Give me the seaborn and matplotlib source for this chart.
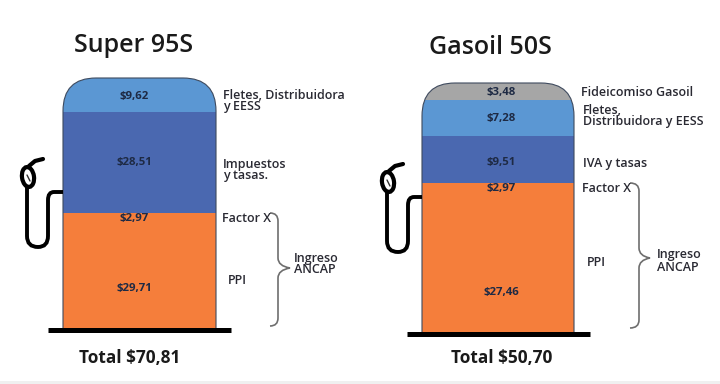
import matplotlib
matplotlib.use('Agg')
import matplotlib.pyplot as plt
import seaborn as sns
import pandas as pd
from matplotlib.path import Path
from matplotlib.patches import PathPatch, Ellipse

sns.set_theme(style='white')
plt.rcParams['font.family'] = ['Open Sans', 'DejaVu Sans']

# values, bottom to top
super_parts = ['PPI', 'Factor X', 'Impuestos y tasas', 'Fletes']
super_values = [29.71, 2.97, 28.51, 9.62]
gasoil_parts = ['PPI', 'Factor X', 'IVA y tasas', 'Fletes', 'Fideicomiso']
gasoil_values = [27.46, 2.97, 9.51, 7.28, 3.48]

colors = {'PPI': '#F57E3B', 'Factor X': '#F57E3B', 'Impuestos y tasas': '#4A68B0',
          'IVA y tasas': '#4A68B0', 'Fletes': '#5B97D3', 'Fideicomiso': '#A6A6A6'}

W, H = 720, 384
fig = plt.figure(figsize=(W / 100, H / 100), dpi=100, facecolor='white')

# overlay in pixel coordinates for text and the pump drawing
over = fig.add_axes([0, 0, 1, 1], zorder=5)
over.set_xlim(0, W)
over.set_ylim(H, 0)
over.axis('off')
over.patch.set_alpha(0)


def money(v):
    return f'${v:.2f}'.replace('.', ',')


def pump_path(x0, x1, top, bottom, r):
    verts = [(x0, bottom), (x0, top + r), (x0, top), (x0 + r, top), (x1 - r, top),
             (x1, top), (x1, top + r), (x1, bottom)]
    codes = [Path.MOVETO, Path.LINETO, Path.CURVE3, Path.CURVE3, Path.LINETO,
             Path.CURVE3, Path.CURVE3, Path.LINETO]
    return Path(verts, codes)


def draw_pump(parts, values, x0, x1, top, bottom, r):
    ax = fig.add_axes([x0 / W, 1 - bottom / H, (x1 - x0) / W, (bottom - top) / H])
    df = pd.DataFrame({'part': parts, 'value': values})
    df['base'] = df['value'].cumsum() - df['value']
    for _, row in df.iterrows():
        sns.barplot(x=['pump'], y=[row['value']], bottom=row['base'], width=1,
                    color=colors[row['part']], saturation=1, linewidth=0, ax=ax)
    ax.set_xlim(-0.5, 0.5)
    ax.set_ylim(0, df['value'].sum())
    ax.axis('off')
    shape = pump_path(x0, x1, top, bottom, r)
    for p in ax.patches:
        p.set_clip_path(shape, transform=over.transData)
    over.add_patch(PathPatch(shape, fc='none', ec='#3E4A5E', lw=0.8))


def draw_hose(dx, dy, x0):
    hose = Path([(x0, 192 + dy), (54 + dx, 192 + dy), (48 + dx, 192 + dy), (48 + dx, 200 + dy),
                 (48 + dx, 236 + dy), (48 + dx, 247 + dy), (38 + dx, 247 + dy),
                 (27 + dx, 247 + dy), (27 + dx, 236 + dy), (27 + dx, 186 + dy)],
                [Path.MOVETO, Path.LINETO, Path.CURVE3, Path.CURVE3, Path.LINETO,
                 Path.CURVE3, Path.CURVE3, Path.CURVE3, Path.CURVE3, Path.LINETO])
    over.add_patch(PathPatch(hose, fc='none', ec='black', lw=2.8))
    over.add_patch(Ellipse((28 + dx, 177 + dy), 12, 20, angle=-8, fc='white', ec='black', lw=3))
    over.plot([29 + dx, 35 + dx, 43 + dx], [166 + dy, 161 + dy, 159 + dy], color='black', lw=3,
              solid_capstyle='round')
    over.plot([27 + dx, 30 + dx], [175 + dy, 181 + dy], color='#333333', lw=1)


def draw_brace(xv, xs, xtip, top, mid, bottom):
    brace = Path([(xs, top), (xv, top), (xv, top + 8), (xv, mid - 10), (xv, mid - 2), (xtip, mid),
                  (xv, mid + 2), (xv, mid + 10), (xv, bottom - 8), (xv, bottom), (xs, bottom)],
                 [Path.MOVETO, Path.CURVE3, Path.CURVE3, Path.LINETO, Path.CURVE3, Path.CURVE3,
                  Path.CURVE3, Path.CURVE3, Path.LINETO, Path.CURVE3, Path.CURVE3])
    over.add_patch(PathPatch(brace, fc='none', ec='#6E6E6E', lw=1.2))


draw_pump(super_parts, super_values, 63, 216, 78, 328, 33)
draw_pump(gasoil_parts, gasoil_values, 422, 574, 83, 333, 33)

draw_hose(0, 0, 63)
draw_hose(360, 5, 422)

over.plot([48, 231], [329.5, 329.5], color='black', lw=3.6, solid_capstyle='butt')
over.plot([407, 590], [334, 334], color='black', lw=3.6, solid_capstyle='butt')

draw_brace(278, 270, 290, 213, 268, 326)
draw_brace(639, 630, 650, 183, 258, 328)

# amounts inside the pumps
value_ypos_super = [288, 218, 163, 96]
value_ypos_gasoil = [292, 189, 163, 118, 92]
for v, y in zip(super_values, value_ypos_super):
    over.text(134, y, money(v), ha='center', va='center', fontsize=8.2, fontweight='bold', color='#1E2A44')
for v, y in zip(gasoil_values, value_ypos_gasoil):
    over.text(501, y, money(v), ha='center', va='center', fontsize=8.2, fontweight='bold', color='#1E2A44')

# side labels
side_labels = [
    (223, 101, 'Fletes, Distribuidora\ny EESS', 0.78),
    (223, 170, 'Impuestos\ny tasas.', 0.78),
    (222, 218, 'Factor X', 0.78),
    (228, 281, 'PPI', 0.78),
    (294, 264, 'Ingreso\nANCAP', 0.78),
    (581, 92, 'Fideicomiso Gasoil', 0.78),
    (583, 116, 'Fletes,\nDistribuidora y EESS', 0.78),
    (583, 163, 'IVA y tasas', 0.78),
    (582, 189, 'Factor X', 0.78),
    (587, 263, 'PPI', 0.78),
    (657, 261, 'Ingreso\nANCAP', 0.95),
]
for x, y, s, sp in side_labels:
    over.text(x, y, s, ha='left', va='center', fontsize=9, fontweight='semibold',
              color='#2A2A33', linespacing=sp)

over.text(134, 45, 'Super 95S', ha='center', va='center', fontsize=18, fontweight='semibold', color='#1A1A1A')
over.text(490, 48, 'Gasoil 50S', ha='center', va='center', fontsize=18, fontweight='semibold', color='#1A1A1A')
over.text(130, 358, 'Total ' + money(sum(super_values)), ha='center', va='center',
          fontsize=12.4, fontweight='bold', color='#1A1A1A')
over.text(502, 358, 'Total ' + money(sum(gasoil_values)), ha='center', va='center',
          fontsize=12.4, fontweight='bold', color='#1A1A1A')

over.axhspan(381, 384, color='#F0F0F0', lw=0)

fig.savefig('out.png', dpi=100)
